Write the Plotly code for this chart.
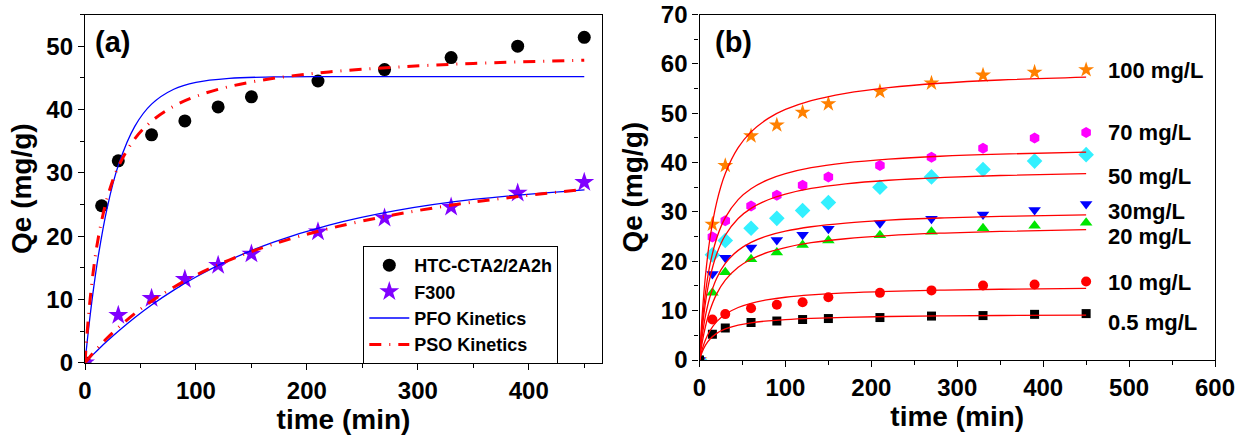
import plotly.graph_objects as go

FONT = "'Liberation Sans', Arial, sans-serif"

# ---------------- panel (a): HTC-CTA2/2A2h vs F300 ----------------
t_htc = [0, 15, 30, 60, 90, 120, 150, 210, 270, 330, 390, 450]
q_htc = [0, 24.8, 31.9, 36.0, 38.2, 40.4, 42.0, 44.5, 46.3, 48.2, 50.0, 51.4]

t_f300 = [0, 30, 60, 90, 120, 150, 210, 270, 330, 390, 450]
q_f300 = [0, 7.5, 10.2, 13.2, 15.4, 17.2, 20.7, 22.85, 24.6, 26.8, 28.5]

# fitted kinetic curves, sampled at t_fit
t_fit = [0, 3, 7, 12, 20, 30, 45, 60, 80, 100, 130, 170, 220, 280, 350, 450]
pfo_htc = [0, 4.99, 10.80, 16.89, 24.48, 31.17, 37.38, 40.85, 43.20, 44.29,
           44.92, 45.14, 45.19, 45.2, 45.2, 45.2]
pso_htc = [0, 7.04, 13.81, 19.76, 26.03, 30.95, 35.41, 38.15, 40.51, 42.07,
           43.62, 44.92, 45.93, 46.69, 47.27, 47.79]
pfo_f300 = [0, 0.54, 1.25, 2.11, 3.43, 4.99, 7.16, 9.13, 11.48, 13.55,
            16.21, 19.06, 21.75, 24.03, 25.80, 27.30]
pso_f300 = [0, 0.64, 1.47, 2.44, 3.91, 5.57, 7.79, 9.72, 11.94, 13.84,
            16.23, 18.76, 21.20, 23.42, 25.38, 27.40]

# ---------------- panel (b): initial concentration series ----------------
t_obs = [0, 15, 30, 60, 90, 120, 150, 210, 270, 330, 390, 450]
conc_labels = ["100 mg/L", "70 mg/L", "50 mg/L", "30mg/L", "20 mg/L", "10 mg/L", "0.5 mg/L"]
q_100 = [0, 27.5, 39.4, 45.4, 47.6, 50.2, 51.9, 54.4, 56.1, 57.7, 58.3, 58.8]
q_70 = [0, 24.9, 28.2, 31.2, 33.4, 35.4, 37.1, 39.4, 41.1, 42.9, 45.0, 46.1]
q_50 = [0, 21.3, 24.2, 26.7, 28.7, 30.3, 31.9, 35.0, 37.1, 38.6, 40.3, 41.6]
q_30 = [0, 17.4, 20.7, 22.8, 24.3, 25.4, 26.6, 27.7, 28.6, 29.5, 30.4, 31.6]
q_20 = [0, 13.6, 17.8, 20.4, 21.8, 23.3, 24.2, 25.3, 26.0, 26.7, 27.2, 27.8]
q_10 = [0, 8.2, 9.3, 10.5, 11.2, 11.7, 12.7, 13.6, 14.1, 15.1, 15.3, 15.9]
q_05 = [0, 5.2, 6.5, 7.6, 7.9, 8.2, 8.4, 8.6, 8.9, 9.0, 9.25, 9.4]

fit_100 = [0, 8.81, 17.17, 24.41, 31.95, 37.78, 43.02, 46.22, 48.96, 50.76,
           52.55, 54.04, 55.19, 56.07, 56.73, 57.32]
fit_70 = [0, 7.14, 13.68, 19.15, 24.68, 28.84, 32.50, 34.70, 36.55, 37.76,
          38.96, 39.94, 40.71, 41.28, 41.71, 42.11]
fit_50 = [0, 6.04, 11.69, 16.52, 21.48, 25.28, 28.67, 30.72, 32.47, 33.61,
          34.75, 35.69, 36.42, 36.97, 37.38, 37.76]
fit_30 = [0, 4.63, 8.98, 12.72, 16.58, 19.56, 22.21, 23.83, 25.20, 26.11,
          27.00, 27.75, 28.33, 28.77, 29.09, 29.39]
fit_20 = [0, 3.41, 6.84, 9.97, 13.39, 16.17, 18.77, 20.41, 21.84, 22.79,
          23.76, 24.57, 25.21, 25.69, 26.06, 26.40]
fit_10 = [0, 2.07, 4.09, 5.87, 7.77, 9.27, 10.64, 11.49, 12.22, 12.71,
          13.19, 13.60, 13.91, 14.15, 14.33, 14.50]
fit_05 = [0, 1.58, 3.02, 4.21, 5.40, 6.29, 7.07, 7.54, 7.93, 8.19,
          8.44, 8.65, 8.81, 8.93, 9.02, 9.10]

label_y = [58.7, 46.0, 37.1, 30.0, 25.1, 15.65, 7.55]

fig = go.Figure()

# panel (a) markers
fig.add_trace(go.Scatter(x=t_htc, y=q_htc, mode="markers", name="HTC-CTA2/2A2h",
                         marker=dict(symbol="circle", size=13, color="black"),
                         xaxis="x", yaxis="y"))
fig.add_trace(go.Scatter(x=t_f300, y=q_f300, mode="markers", name="F300",
                         marker=dict(symbol="star", size=15, color="#8000ff",
                                     line=dict(width=0)),
                         xaxis="x", yaxis="y"))

# panel (a) fits
pfo_line = dict(color="#0000ff", width=1.3, shape="spline")
pso_line = dict(color="#ff0000", width=3, dash="12px,8px,1px,8px", shape="spline")
fig.add_trace(go.Scatter(x=t_fit, y=pfo_htc, mode="lines", name="PFO Kinetics",
                         legendgroup="pfo", line=pfo_line, xaxis="x", yaxis="y"))
fig.add_trace(go.Scatter(x=t_fit, y=pfo_f300, mode="lines", name="PFO Kinetics",
                         legendgroup="pfo", showlegend=False, line=pfo_line,
                         xaxis="x", yaxis="y"))
fig.add_trace(go.Scatter(x=t_fit, y=pso_htc, mode="lines", name="PSO Kinetics",
                         legendgroup="pso", line=pso_line, xaxis="x", yaxis="y"))
fig.add_trace(go.Scatter(x=t_fit, y=pso_f300, mode="lines", name="PSO Kinetics",
                         legendgroup="pso", showlegend=False, line=pso_line,
                         xaxis="x", yaxis="y"))

# panel (b) markers
series_b = [
    (q_100, "star", 12, "#ff8000"),
    (q_70, "hexagon", 11, "#ff00ff"),
    (q_50, "diamond", 12, "#33f0ff"),
    (q_30, "triangle-down", 11, "#0000ff"),
    (q_20, "triangle-up", 11, "#00e600"),
    (q_10, "circle", 10, "#ff0000"),
    (q_05, "square", 9, "black"),
]
for (qv, sym, sz, col), lab in zip(series_b, conc_labels):
    fig.add_trace(go.Scatter(x=t_obs, y=qv, mode="markers", name=lab, showlegend=False,
                             marker=dict(symbol=sym, size=sz, color=col, line=dict(width=0)),
                             xaxis="x2", yaxis="y2"))

# panel (b) fits
for fv, lab in zip([fit_100, fit_70, fit_50, fit_30, fit_20, fit_10, fit_05], conc_labels):
    fig.add_trace(go.Scatter(x=t_fit, y=fv, mode="lines", name=lab + " fit", showlegend=False,
                             line=dict(color="#ff0000", width=1.3, shape="spline"),
                             xaxis="x2", yaxis="y2"))

tickfont = dict(family=FONT, size=24, color="black", weight="bold")
titlefont = dict(family=FONT, size=28, color="black", weight="bold")


def axis_style(**kw):
    base = dict(showline=True, linecolor="black", linewidth=1.3, mirror=True,
                ticks="outside", ticklen=6, tickwidth=1.3, tickcolor="black",
                showgrid=False, zeroline=False, tickfont=tickfont, automargin=False)
    base.update(kw)
    return base


annotations = [
    dict(text="<b>(a)</b>", x=7, y=50.6, xref="x", yref="y", xanchor="left",
         yanchor="middle", showarrow=False, font=dict(family=FONT, size=29, color="black")),
    dict(text="<b>(b)</b>", x=15.5, y=64.4, xref="x2", yref="y2", xanchor="left",
         yanchor="middle", showarrow=False, font=dict(family=FONT, size=29, color="black")),
]
for lab, ly in zip(conc_labels, label_y):
    annotations.append(dict(text="<b>" + lab + "</b>", x=473, y=ly, xref="x2", yref="y2",
                            xanchor="left", yanchor="middle", showarrow=False,
                            font=dict(family=FONT, size=22, color="black")))

fig.update_layout(
    width=1244, height=435,
    margin=dict(l=0, r=0, t=0, b=0, autoexpand=False),
    paper_bgcolor="white", plot_bgcolor="white",
    showlegend=True,
    xaxis=axis_style(domain=[85 / 1244, 602 / 1244], range=[0, 466], dtick=100,
                     minor=dict(dtick=50, ticks="outside", ticklen=4, tickcolor="black"),
                     title=dict(text="<b>time (min)</b>", font=titlefont, standoff=4),
                     anchor="y"),
    yaxis=axis_style(domain=[1 - 362.8 / 435, 1 - 14.5 / 435], range=[0, 55], dtick=10,
                     minor=dict(dtick=5, ticks="outside", ticklen=4, tickcolor="black"),
                     title=dict(text="<b>Qe (mg/g)</b>", font=titlefont, standoff=6),
                     anchor="x"),
    xaxis2=axis_style(domain=[699.5 / 1244, 1215 / 1244], range=[0, 600], dtick=100,
                      minor=dict(dtick=50, ticks="outside", ticklen=4, tickcolor="black"),
                      title=dict(text="<b>time (min)</b>", font=titlefont, standoff=4),
                      anchor="y2"),
    yaxis2=axis_style(domain=[1 - 360 / 435, 1 - 14.5 / 435], range=[0, 70], dtick=10,
                      minor=dict(dtick=5, ticks="outside", ticklen=4, tickcolor="black"),
                      title=dict(text="<b>Qe (mg/g)</b>", font=titlefont, standoff=10),
                      anchor="x2"),
    legend=dict(x=363.3 / 1244, y=1 - 246 / 435, xanchor="left", yanchor="top",
                xref="paper", yref="paper",
                bgcolor="white", bordercolor="black", borderwidth=1,
                font=dict(family=FONT, size=18, color="black", weight="bold"),
                itemwidth=40, tracegroupgap=0),
    annotations=annotations,
)

fig.write_html("out.html")
